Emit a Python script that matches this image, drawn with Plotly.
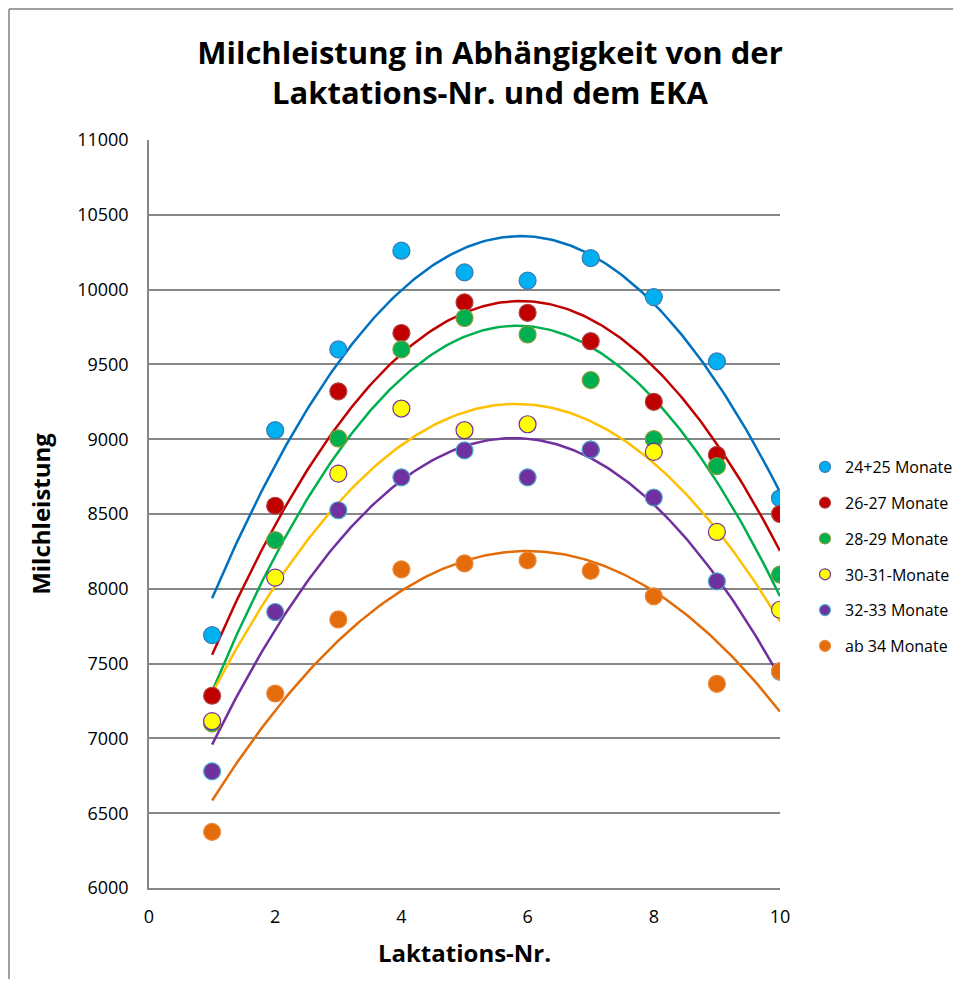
import numpy as np
import plotly.graph_objects as go

laktation = [1, 2, 3, 4, 5, 6, 7, 8, 9, 10]

series_names = ["24+25 Monate", "26-27 Monate", "28-29 Monate",
                "30-31-Monate", "32-33 Monate", "ab 34 Monate"]

m_24_25 = [7690, 9060, 9600, 10260, 10115, 10060, 10210, 9950, 9520, 8605]
m_26_27 = [7285, 8555, 9320, 9710, 9915, 9845, 9655, 9250, 8895, 8500]
m_28_29 = [7100, 8325, 9005, 9600, 9810, 9700, 9395, 9000, 8820, 8095]
m_30_31 = [7115, 8075, 8770, 9205, 9060, 9100, 8930, 8915, 8380, 7860]
m_32_33 = [6780, 7845, 8525, 8745, 8925, 8745, 8930, 8610, 8050, 7445]
m_ab_34 = [6375, 7300, 7795, 8130, 8170, 8190, 8120, 7950, 7365, 7450]

values = [m_24_25, m_26_27, m_28_29, m_30_31, m_32_33, m_ab_34]

fill_colors = ["#00B0F0", "#C00000", "#00B050", "#FFFF00", "#7030A0", "#E46C0A"]
edge_colors = ["#3A78B0", "#B04040", "#8A9A3A", "#7030A0", "#4BACC6", "#E88A40"]
line_colors = ["#0070C0", "#C00000", "#00B050", "#FFC000", "#7030A0", "#E36C09"]

fig = go.Figure()

# Polynomial (order 2) trendlines, as in the original spreadsheet chart
xs = np.linspace(1, 10, 200)
for name, ys, lc in zip(series_names, values, line_colors):
    coef = np.polyfit(laktation, ys, 2)
    fig.add_trace(go.Scatter(x=xs, y=np.polyval(coef, xs), mode="lines",
                             line=dict(color=lc, width=2.5),
                             showlegend=False, hoverinfo="skip"))

for name, ys, fc, ec in zip(series_names, values, fill_colors, edge_colors):
    fig.add_trace(go.Scatter(x=laktation, y=ys, mode="markers", name=name,
                             showlegend=False,
                             marker=dict(size=17, color=fc,
                                         line=dict(color=ec, width=1.2))))

# legend entries with smaller markers
for name, fc, ec in zip(series_names, fill_colors, edge_colors):
    fig.add_trace(go.Scatter(x=[None], y=[None], mode="markers", name=name,
                             legendgroup=name,
                             marker=dict(size=11, color=fc,
                                         line=dict(color=ec, width=1.2))))

W, H = 945, 971
L, R, T, B = 141, 173, 132, 91
pw, ph = W - L - R, H - T - B

fig.update_layout(
    width=W, height=H,
    paper_bgcolor="white", plot_bgcolor="white",
    margin=dict(l=L, r=R, t=T, b=B),
    font=dict(family="Open Sans, Noto Sans, sans-serif", color="#000000"),
    title=dict(text="<b>Milchleistung in Abhängigkeit von der<br>Laktations-Nr. und dem EKA</b>",
               x=482/W, xanchor="center", y=1-56/H, yanchor="middle",
               font=dict(size=31, color="#000000")),
    xaxis=dict(range=[0, 10], tickvals=[0, 2, 4, 6, 8, 10], showgrid=False,
               zeroline=False, showline=True, linecolor="#868686", linewidth=1.5,
               ticks="", automargin=False,
               tickfont=dict(size=18), ticklabelstandoff=12,
               title=dict(text="<b>Laktations-Nr.</b>", font=dict(size=24), standoff=18)),
    yaxis=dict(range=[6000, 11000], dtick=500, tickformat="d", showgrid=True,
               gridcolor="#868686", automargin=False,
               gridwidth=1.5, zeroline=False, showline=True, linecolor="#868686",
               linewidth=1.5, ticks="", tickfont=dict(size=18), ticklabelstandoff=15,
               title=dict(text="<b>Milchleistung</b>", font=dict(size=24), standoff=20)),
    legend=dict(xref="container", yref="container",
                x=797/W, xanchor="left", y=1-548.5/H, yanchor="middle",
                font=dict(size=16), tracegroupgap=12,
                bgcolor="rgba(0,0,0,0)"),
    shapes=[
        dict(type="line", xref="paper", yref="paper",
             x0=(-L + 1) / pw, x1=(W - L) / pw, y0=1 + (T - 1) / ph, y1=1 + (T - 1) / ph,
             line=dict(color="#A0A0A0", width=2)),
        dict(type="line", xref="paper", yref="paper",
             x0=(-L + 1) / pw, x1=(-L + 1) / pw, y0=1 + (T - 1) / ph, y1=-B / ph,
             line=dict(color="#A0A0A0", width=2)),
    ],
)

fig.write_html("out.html")
